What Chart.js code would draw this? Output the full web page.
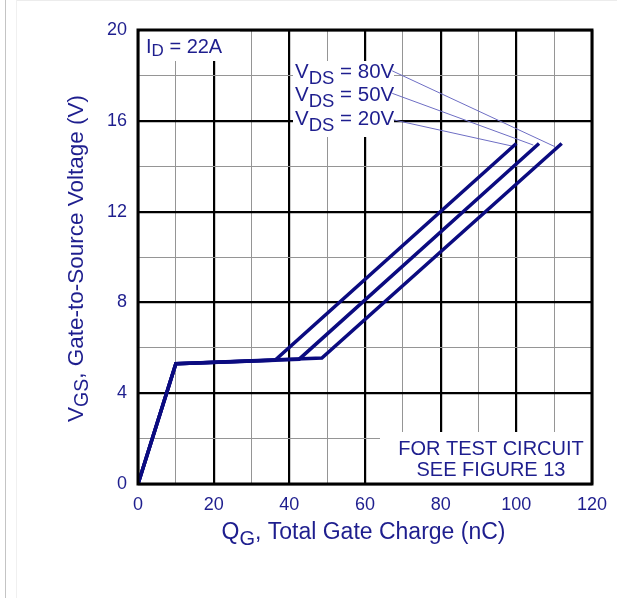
<!DOCTYPE html>
<html>
<head>
<meta charset="utf-8">
<script src="https://cdn.jsdelivr.net/npm/chart.js@4.4.1/dist/chart.umd.min.js"></script>
<style>
  html, body { margin: 0; padding: 0; background: #fff; }
  #wrap { position: relative; width: 617px; height: 598px; overflow: hidden; }
  #edge1 { position: absolute; left: 5px; top: 0; width: 1px; height: 598px; background: #c4c4c4; }
  #edge2 { position: absolute; left: 16px; top: 0; width: 1px; height: 598px; background: #f0f0f0; }
  #edge3 { position: absolute; left: 17px; top: 0; width: 600px; height: 1px; background: #ececec; }
  canvas { position: absolute; left: 0; top: 0; }
</style>
</head>
<body>
<div id="wrap">
  <canvas id="gateChart" width="617" height="598"></canvas>
  <div id="edge1"></div><div id="edge2"></div><div id="edge3"></div>
</div>
<script>
// gate charge curves (QG in nC, VGS in V)
const QG_20V = [0, 10, 36.2, 100];
const VGS_20V = [0, 5.3, 5.45, 15];
const QG_50V = [0, 10, 42.6, 106];
const VGS_50V = [0, 5.3, 5.5, 15];
const QG_80V = [0, 10, 48.6, 112];
const VGS_80V = [0, 5.3, 5.55, 15];

// leader lines from the labels to the curve ends
const LEADER_QG_80V = [67.2, 110.2];
const LEADER_VGS_80V = [18.2, 14.86];
const LEADER_QG_50V = [67.2, 104.5];
const LEADER_VGS_50V = [17.21, 14.93];
const LEADER_QG_20V = [67.6, 98.8];
const LEADER_VGS_20V = [16.04, 14.89];

const X_LABELS = [0, 20, 40, 60, 80, 100, 120];
const Y_LABELS = [0, 4, 8, 12, 16, 20];

const FONT = '"Liberation Sans", Arial, Helvetica, sans-serif';
const TEXT_COLOR = '#1e1e8e';
const CURVE_COLOR = '#0b0b80';

const pts = (xs, ys) => xs.map((x, i) => ({ x, y: ys[i] }));

const curve = (label, xs, ys) => ({
  label,
  data: pts(xs, ys),
  showLine: true,
  borderColor: CURVE_COLOR,
  borderWidth: 3.5,
  borderCapStyle: 'butt',
  borderJoinStyle: 'miter',
  pointRadius: 0,
  fill: false,
  tension: 0,
});

const leader = (label, xs, ys) => ({
  label,
  data: pts(xs, ys),
  showLine: true,
  borderColor: '#6e6ec4',
  borderWidth: 1,
  pointRadius: 0,
  fill: false,
});

// draw text with a subscript part: [main, sub, rest]
function subText(ctx, x, y, main, sub, rest, size, subSize, drop) {
  ctx.font = size + 'px ' + FONT;
  ctx.fillText(main, x, y);
  x += ctx.measureText(main).width;
  ctx.font = subSize + 'px ' + FONT;
  ctx.fillText(sub, x, y + drop);
  x += ctx.measureText(sub).width;
  ctx.font = size + 'px ' + FONT;
  ctx.fillText(rest, x, y);
  return x + ctx.measureText(rest).width;
}

function subWidth(ctx, main, sub, rest, size, subSize) {
  ctx.font = size + 'px ' + FONT;
  let w = ctx.measureText(main).width + ctx.measureText(rest).width;
  ctx.font = subSize + 'px ' + FONT;
  return w + ctx.measureText(sub).width;
}

const annotations = {
  id: 'annotations',
  beforeDatasetsDraw(chart) {
    const ctx = chart.ctx;
    ctx.save();
    // white boxes that cut the grid behind the labels
    ctx.fillStyle = '#fff';
    ctx.fillRect(140, 31, 100, 30);
    ctx.fillRect(293, 61, 101, 76);
    ctx.fillRect(380, 432, 211, 51);

    ctx.fillStyle = TEXT_COLOR;
    ctx.textBaseline = 'alphabetic';
    ctx.textAlign = 'left';
    subText(ctx, 146, 53, 'I', 'D', ' = 22A', 20, 17, 3);

    const vds = ['80V', '50V', '20V'];
    const base = [78, 101, 125];
    vds.forEach((v, i) => subText(ctx, 295, base[i], 'V', 'DS', ' = ' + v, 20.5, 18.5, 6));

    ctx.font = '20px ' + FONT;
    ctx.textAlign = 'center';
    ctx.fillText('FOR TEST CIRCUIT', 491, 455);
    ctx.fillText('SEE FIGURE 13', 491, 476);
    ctx.restore();
  },
  afterDatasetsDraw(chart) {
    const ctx = chart.ctx;
    const a = chart.chartArea;
    ctx.save();
    ctx.strokeStyle = '#000';
    ctx.lineWidth = 3;
    ctx.strokeRect(a.left, a.top, a.right - a.left, a.bottom - a.top);
    ctx.restore();
  },
  afterDraw(chart) {
    const ctx = chart.ctx;
    ctx.save();
    ctx.fillStyle = TEXT_COLOR;
    ctx.textAlign = 'left';
    ctx.textBaseline = 'alphabetic';
    // x axis title
    let w = subWidth(ctx, 'Q', 'G', ', Total Gate Charge (nC)', 23, 20);
    subText(ctx, 363.5 - w / 2, 539, 'Q', 'G', ', Total Gate Charge (nC)', 23, 20, 6);
    // y axis title
    ctx.translate(83, 258.5);
    ctx.rotate(-Math.PI / 2);
    w = subWidth(ctx, 'V', 'GS', ', Gate-to-Source Voltage (V)', 22.5, 19.5);
    subText(ctx, -w / 2, 0, 'V', 'GS', ', Gate-to-Source Voltage (V)', 22.5, 19.5, 5);
    ctx.restore();
  },
};

const gridColor = (major) => (c) => (c.tick && c.tick.value % major === 0 ? '#000' : '#959595');
const gridWidth = (major) => (c) => (c.tick && c.tick.value % major === 0 ? 2.2 : 1);

new Chart(document.getElementById('gateChart'), {
  type: 'scatter',
  data: {
    datasets: [
      curve('VDS = 20V', QG_20V, VGS_20V),
      curve('VDS = 50V', QG_50V, VGS_50V),
      curve('VDS = 80V', QG_80V, VGS_80V),
      leader('leader 80V', LEADER_QG_80V, LEADER_VGS_80V),
      leader('leader 50V', LEADER_QG_50V, LEADER_VGS_50V),
      leader('leader 20V', LEADER_QG_20V, LEADER_VGS_20V),
    ],
  },
  options: {
    responsive: false,
    animation: false,
    layout: { padding: { top: 30, right: 24, left: 0, bottom: 0 } },
    plugins: { legend: { display: false }, tooltip: { enabled: false } },
    scales: {
      x: {
        type: 'linear',
        min: 0,
        max: 120,
        border: { display: false },
        grid: { color: gridColor(20), lineWidth: gridWidth(20), drawTicks: false },
        ticks: {
          stepSize: 10,
          autoSkip: false,
          maxRotation: 0,
          padding: 10,
          color: TEXT_COLOR,
          font: { family: FONT, size: 18 },
          callback: (v) => (X_LABELS.includes(v) ? String(v) : ''),
        },
        afterFit: (s) => { s.height = 114; },
      },
      y: {
        type: 'linear',
        min: 0,
        max: 20,
        border: { display: false },
        grid: { color: gridColor(4), lineWidth: gridWidth(4), drawTicks: false },
        ticks: {
          stepSize: 2,
          autoSkip: false,
          padding: 11,
          color: TEXT_COLOR,
          font: { family: FONT, size: 18 },
          callback: (v) => (Y_LABELS.includes(v) ? String(v) : ''),
        },
        afterFit: (s) => { s.width = 138; },
      },
    },
  },
  plugins: [annotations],
});
</script>
</body>
</html>
